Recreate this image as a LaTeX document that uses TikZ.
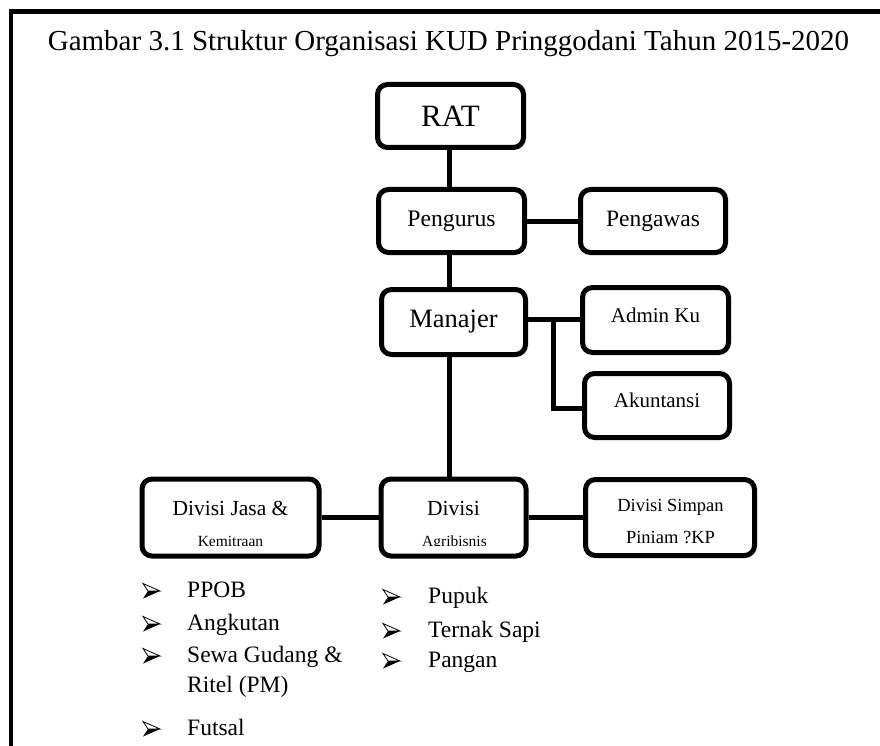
\documentclass[tikz,border=0pt]{standalone}
\usepackage{fontspec}
\setmainfont{Liberation Serif}
\newcommand{\fsz}[1]{\fontsize{#1}{#1}\selectfont}
\begin{document}
\begin{tikzpicture}[x=1pt,y=-1pt,
  box/.style={draw, line width=5pt, rounded corners=10pt, inner sep=0pt, align=center},
  conn/.style={line width=5pt},
  bul/.pic={
    \filldraw[fill=white, line width=0.8pt, line join=miter] (0,-7.5) -- (17,0) -- (5,0) -- cycle;
    \fill (5,0) -- (17,0) -- (0,7.5) -- cycle;
  },
  item/.style={anchor=base west, inner sep=0pt, font=\fsz{23.5}}
]
\useasboundingbox (0,0) rectangle (880,746);

% frame
\coordinate (fc) at (10.8,11.7);
\draw[line width=4.5pt, line join=miter] (880,11.7) -- (fc) -- (10.8,746);

% title
\node[anchor=base, inner sep=0pt, font=\fsz{29}] (title) at (448.5,51) {Gambar 3.1 Struktur Organisasi KUD Pringgodani Tahun 2015-2020};

% boxes
\node[box, minimum width=146pt, minimum height=63pt, font=\fsz{31}] (rat) at (450.5,116) {RAT};
\node[box, minimum width=146pt, minimum height=63pt, font=\fsz{23.7}] (peng) at (451.5,221) {Pengurus};
\node[box, minimum width=145pt, minimum height=63pt, font=\fsz{23.5}] (pengawas) at (653,221) {Pengawas};
\node[box, minimum width=144pt, minimum height=65pt, font=\fsz{26.5}] (man) at (453.5,322) {Manajer};
\node[box, minimum width=146pt, minimum height=65pt, font=\fsz{21}, text height=14pt, text depth=10pt] (admin) at (655.5,320) {Admin Ku};
\node[box, minimum width=145pt, minimum height=64pt, font=\fsz{21}, text height=14pt, text depth=10pt] (akun) at (657,405.5) {Akuntansi};
\node[box, minimum width=177pt, minimum height=77pt, font=\fsz{21.5}, text height=15pt, text depth=19pt] (jasa) at (230.5,517.5) {Divisi Jasa \&};
\node[box, minimum width=145pt, minimum height=77pt, font=\fsz{21.5}, text height=15pt, text depth=19pt] (agri) at (453.5,517.5) {Divisi};
\node[box, minimum width=169pt, minimum height=76pt] (simpan) at (670,517.5) {};
\node[anchor=base, inner sep=0pt, font=\fsz{18.5}] (simpan1) at (670.5,511.3) {Divisi Simpan};
\node[anchor=base, inner sep=0pt, font=\fsz{18.5}] (simpan2) at (670.5,543.3) {Piniam ?KP};

% clipped second lines
\begin{scope}
  \clip (130,528) rectangle (560,545);
  \node[anchor=base, inner sep=0pt, font=\fsz{15.5}] (kemi) at (230.5,546.5) {Kemitraan};
  \node[anchor=base, inner sep=0pt, font=\fsz{15.5}] (agri2) at (454.5,546.5) {Agribisnis};
\end{scope}

% connectors
\coordinate (spine) at (449,0);
\draw[conn] (rat.south -| spine) -- (peng.north -| spine);
\draw[conn] (peng.south -| spine) -- (man.north -| spine);
\draw[conn] (man.south -| spine) -- (agri.north -| spine);
\draw[conn] (peng.east) -- (pengawas.west);
\coordinate (br) at (553,319);
\coordinate (bk) at (553,408);
\draw[conn] (man.east |- br) -- (br -| admin.west);
\draw[conn, line join=miter] (br) -- (bk) -- (bk -| akun.west);
\draw[conn] (jasa.east) -- (agri.west);
\draw[conn] (agri.east) -- (simpan.west);

% bullet lists
\pic at (143,591) {bul};
\node[item] (i1) at (187,597) {PPOB};
\pic at (143,624) {bul};
\node[item] (i2) at (187,630) {Angkutan};
\pic at (143,656) {bul};
\node[item] (i3) at (187,662) {Sewa Gudang \&};
\node[item] (i3b) at (187,692) {Ritel (PM)};
\pic at (143,729) {bul};
\node[item] (i4) at (187,735) {Futsal};

\pic at (383,597) {bul};
\node[item] (j1) at (428,603) {Pupuk};
\pic at (383,631) {bul};
\node[item] (j2) at (428,637) {Ternak Sapi};
\pic at (383,661) {bul};
\node[item] (j3) at (428,667) {Pangan};
\end{tikzpicture}
\end{document}
